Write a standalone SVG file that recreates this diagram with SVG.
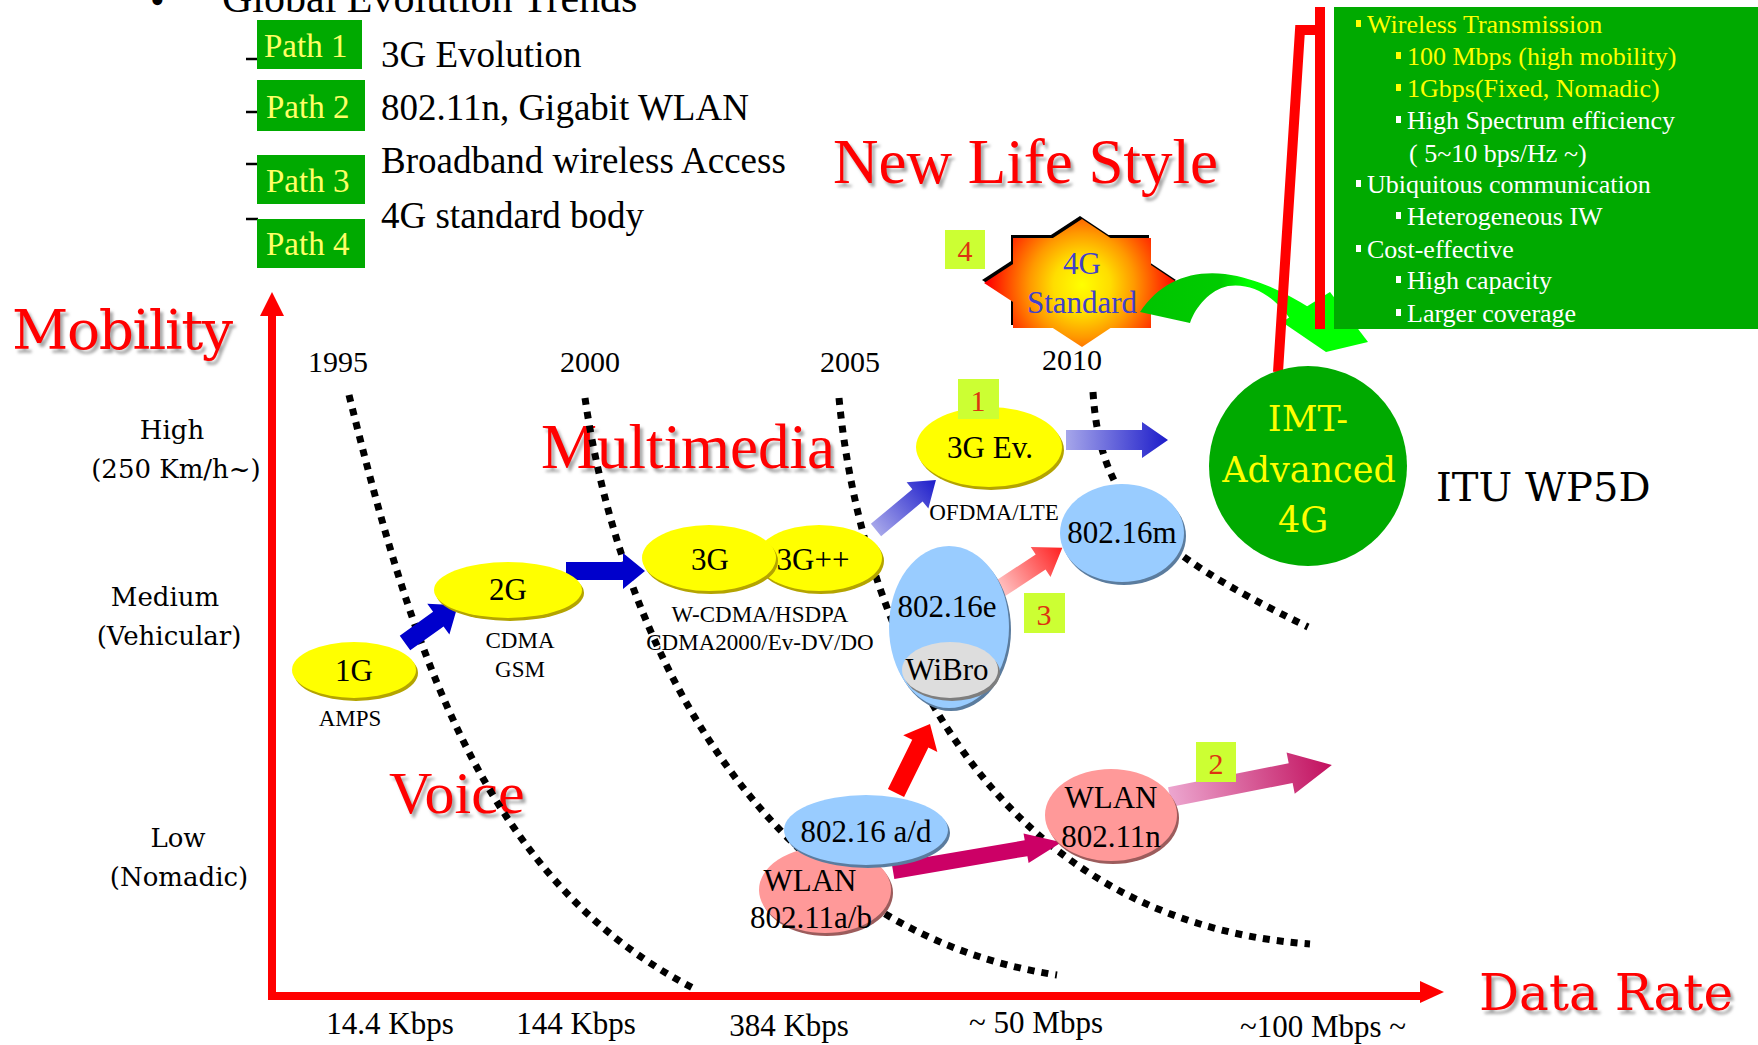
<svg xmlns="http://www.w3.org/2000/svg" width="1758" height="1045" viewBox="0 0 1758 1045">
<defs>
<style>
text{font-family:"Liberation Serif","Times New Roman",serif;}
.bk{font-family:"DejaVu Serif","Liberation Serif",serif;}
.ctr{text-anchor:middle;}
.red{fill:#FF0000;}
.soft{fill:#A8A8A8;filter:url(#soft);}
.pbox{fill:#00AA00;}
.ptxt{fill:#FFFF66;font-size:33px;}
.item{font-size:37px;fill:#000;}
.year{font-size:30px;text-anchor:middle;}
.mob{font-size:26px;text-anchor:middle;font-family:"DejaVu Serif","Liberation Serif",serif;}
.rate{font-size:31px;text-anchor:middle;}
.era{fill:none;stroke:#000;stroke-width:7;stroke-dasharray:7 7;}
.ntxt{font-size:31px;text-anchor:middle;fill:#000;}
.stxt{font-size:23px;text-anchor:middle;fill:#000;}
.yel{fill:#FFFF00;} .yel-s{fill:#B4A400;}
.blu{fill:#99CCFF;} .blu-s{fill:#5B7C9E;}
.pnk{fill:#FF9999;} .pnk-s{fill:#9C5C5C;}
.gry{fill:#DDDDDD;} .gry-s{fill:#7E7E7E;}
.tag{fill:#CCFF33;}
.tagtxt{fill:#DD3311;font-size:30px;text-anchor:middle;}
.info{font-size:26px;}
.iy{fill:#FFFF00;}
.iw{fill:#FFFFFF;}
.axis{fill:none;stroke:#FF0000;stroke-width:8;}
</style>
<filter id="soft" x="-5%" y="-20%" width="110%" height="140%"><feGaussianBlur stdDeviation="1.6"/></filter>
<linearGradient id="gBlue" x1="0" y1="0" x2="1" y2="0"><stop offset="0" stop-color="#A6A6EA"/><stop offset="1" stop-color="#1C1CCA"/></linearGradient>
<linearGradient id="gRed" x1="0" y1="0" x2="1" y2="0"><stop offset="0" stop-color="#FFC8C8"/><stop offset="1" stop-color="#FF2020"/></linearGradient>
<linearGradient id="gMag" x1="0" y1="0" x2="1" y2="0"><stop offset="0" stop-color="#ECA6CF"/><stop offset="1" stop-color="#C2105E"/></linearGradient>
<linearGradient id="gGreen" gradientUnits="userSpaceOnUse" x1="1140" y1="0" x2="1320" y2="0"><stop offset="0" stop-color="#00C400"/><stop offset="0.45" stop-color="#00CC00"/><stop offset="0.6" stop-color="#00FF00"/><stop offset="1" stop-color="#00FF00"/></linearGradient>
<radialGradient id="starGrad" gradientUnits="userSpaceOnUse" cx="1082" cy="285" r="95"><stop offset="0" stop-color="#FFFF00"/><stop offset="0.3" stop-color="#FFDD00"/><stop offset="0.55" stop-color="#FF9900"/><stop offset="0.8" stop-color="#FF4400"/><stop offset="1" stop-color="#FF0000"/></radialGradient>
</defs>

<rect width="1758" height="1045" fill="#FFFFFF"/>

<!-- heading and path legend -->
<g id="legend">
  <text x="150" y="14" font-size="42">•</text>
  <text x="222" y="12" font-size="42">Global Evolution Trends</text>
  <g stroke="#000" stroke-width="2.5">
    <line x1="246" y1="59" x2="258" y2="59"/>
    <line x1="246" y1="112" x2="258" y2="112"/>
    <line x1="246" y1="164" x2="258" y2="164"/>
    <line x1="246" y1="219" x2="258" y2="219"/>
  </g>
  <g id="path1"><rect class="pbox" x="257" y="20" width="105" height="49"/><text class="ptxt" x="264" y="57">Path 1</text></g>
  <g id="path2"><rect class="pbox" x="257" y="80" width="108" height="51"/><text class="ptxt" x="266" y="118">Path 2</text></g>
  <g id="path3"><rect class="pbox" x="257" y="155" width="108" height="49"/><text class="ptxt" x="266" y="192">Path 3</text></g>
  <g id="path4"><rect class="pbox" x="257" y="219" width="108" height="49"/><text class="ptxt" x="266" y="255">Path 4</text></g>
  <text class="item" x="381" y="67">3G Evolution</text>
  <text class="item" x="381" y="120">802.11n, Gigabit WLAN</text>
  <text class="item" x="381" y="173">Broadband wireless Access</text>
  <text class="item" x="381" y="228">4G standard body</text>
</g>

<!-- big red captions -->
<g id="captions">
  <text class="soft" x="836" y="187" font-size="63">New Life Style</text>
  <text class="red" x="833" y="183" font-size="63">New Life Style</text>
  <text class="soft bk" x="15" y="353" font-size="55" textLength="221">Mobility</text>
  <text class="red bk" x="12" y="349" font-size="55" textLength="221">Mobility</text>
  <text class="soft" x="544" y="472" font-size="63">Multimedia</text>
  <text class="red" x="541" y="468" font-size="63">Multimedia</text>
  <text class="soft" x="392" y="817" font-size="60">Voice</text>
  <text class="red" x="389" y="813" font-size="60">Voice</text>
  <text class="soft bk" x="1482" y="1014" font-size="50">Data Rate</text>
  <text class="red bk" x="1479" y="1010" font-size="50">Data Rate</text>
  <text class="bk" x="1436" y="501" font-size="40">ITU WP5D</text>
</g>

<!-- axes -->
<g id="axes">
  <path class="axis" d="M272,312 V996 H1422"/>
  <polygon points="272,292 260,316 284,316" fill="#FF0000"/>
  <polygon points="1444,992 1420,981 1420,1003" fill="#FF0000"/>
  <text class="mob" x="172" y="439">High</text>
  <text class="mob" x="176" y="478">(250 Km/h~)</text>
  <text class="mob" x="165" y="606">Medium</text>
  <text class="mob" x="169" y="645">(Vehicular)</text>
  <text class="mob" x="178" y="847">Low</text>
  <text class="mob" x="179" y="886">(Nomadic)</text>
  <text class="rate" x="390" y="1034">14.4 Kbps</text>
  <text class="rate" x="576" y="1034">144 Kbps</text>
  <text class="rate" x="789" y="1036">384 Kbps</text>
  <text class="rate" x="1036" y="1033">~ 50 Mbps</text>
  <text class="rate" x="1323" y="1037">~100 Mbps ~</text>
  <text class="year" x="338" y="372">1995</text>
  <text class="year" x="590" y="372">2000</text>
  <text class="year" x="850" y="372">2005</text>
  <text class="year" x="1072" y="370">2010</text>
</g>

<!-- era boundaries -->
<g id="era-boundaries">
  <path class="era" d="M349,395 C410,640 480,880 695,989"/>
  <path class="era" d="M585,398 C620,640 760,930 1057,975"/>
  <path class="era" d="M839,398 C860,620 980,920 1310,944"/>
  <path class="era" d="M1093,392 C1100,500 1145,548 1308,627"/>
</g>

<!-- 4G standard burst -->
<g id="node-4g-standard">
  <g transform="translate(-2,-3)" fill="#000">
    <rect x="1013" y="238" width="138" height="90"/>
    <polygon points="1082,219 1178,283 1082,347 984,283"/>
  </g>
  <g fill="url(#starGrad)">
    <rect x="1013" y="238" width="138" height="90"/>
    <polygon points="1082,219 1178,283 1082,347 984,283"/>
  </g>
  <text x="1082" y="274" font-size="31" fill="#4040CC" class="ctr">4G</text>
  <text x="1082" y="313" font-size="31" fill="#4040CC" class="ctr">Standard</text>
</g>
<g id="tag4"><rect class="tag" x="945" y="230" width="40" height="39"/><text class="tagtxt" x="965" y="261">4</text></g>

<!-- curved arrow from the standard to the requirements -->
<g id="arrow-4g">
  <path d="M1140,312 C1160,282 1190,270 1225,274 C1255,278 1285,292 1310,308 L1296,328 C1280,300 1255,282 1228,286 C1210,290 1196,306 1190,323 Z" fill="url(#gGreen)"/>
  <polygon points="1282,322 1330,292 1368,342 1326,352" fill="#00FF00"/>
</g>

<!-- requirements panel -->
<g id="requirements">
  <rect x="1334" y="7" width="424" height="322" fill="#00AA00"/>
  <g class="iy">
    <rect x="1356" y="20" width="5" height="7"/>
    <rect x="1396" y="52" width="5" height="7"/>
    <rect x="1396" y="84" width="5" height="7"/>
  </g>
  <g class="iw">
    <rect x="1396" y="116" width="5" height="7"/>
    <rect x="1356" y="180" width="5" height="7"/>
    <rect x="1396" y="212" width="5" height="7"/>
    <rect x="1356" y="245" width="5" height="7"/>
    <rect x="1396" y="276" width="5" height="7"/>
    <rect x="1396" y="309" width="5" height="7"/>
  </g>
  <text class="info iy" x="1367" y="33">Wireless Transmission</text>
  <text class="info iy" x="1407" y="65">100 Mbps (high mobility)</text>
  <text class="info iy" x="1407" y="97">1Gbps(Fixed, Nomadic)</text>
  <text class="info iw" x="1407" y="129">High Spectrum efficiency</text>
  <text class="info iw" x="1409" y="162">( 5~10 bps/Hz ~)</text>
  <text class="info iw" x="1367" y="193">Ubiquitous communication</text>
  <text class="info iw" x="1407" y="225">Heterogeneous IW</text>
  <text class="info iw" x="1367" y="258">Cost-effective</text>
  <text class="info iw" x="1407" y="289">High capacity</text>
  <text class="info iw" x="1407" y="322">Larger coverage</text>
</g>

<!-- bracket tying IMT-Advanced to the panel -->
<g id="bracket" fill="none" stroke="#FF0000" stroke-width="10">
  <polyline points="1278,372 1300,30 1320,30"/>
  <line x1="1320" y1="7" x2="1320" y2="329"/>
</g>

<!-- connectors -->
<g id="connectors">
  <polygon transform="translate(405,643) rotate(-35.6)" points="0,-9 41,-9 41,-19 65,0 41,19 41,9 0,9" fill="#0000CC"/>
  <polygon transform="translate(566,571)" points="0,-9 57,-9 57,-18 79,0 57,18 57,9 0,9" fill="#0000CC"/>
  <polygon transform="translate(876,530) rotate(-39.8)" points="0,-8 54,-8 54,-17 78,0 54,17 54,8 0,8" fill="url(#gBlue)"/>
  <polygon transform="translate(1066,440)" points="0,-10 76,-10 76,-18 102,0 76,18 76,10 0,10" fill="url(#gBlue)"/>
  <polygon transform="translate(998,590) rotate(-33.3)" points="0,-9 51,-9 51,-18 77,0 51,18 51,9 0,9" fill="url(#gRed)"/>
  <polygon transform="translate(896,793) rotate(-63.8)" points="0,-9 55,-9 55,-19 77,0 55,19 55,9 0,9" fill="#FF0000"/>
  <polygon transform="translate(893,871) rotate(-9.7)" points="0,-8 135,-8 135,-15 171,0 135,15 135,8 0,8" fill="#CC0066"/>
  <polygon transform="translate(1170,797) rotate(-11.2)" points="0,-10 123,-10 123,-21 165,0 123,21 123,10 0,10" fill="url(#gMag)"/>
</g>

<!-- technology nodes -->
<g id="node-1g">
  <ellipse class="yel-s" cx="356" cy="673" rx="62" ry="28"/>
  <ellipse class="yel" cx="354" cy="670" rx="62" ry="28"/>
  <text class="ntxt" x="354" y="681">1G</text>
  <text class="stxt" x="350" y="726">AMPS</text>
</g>
<g id="node-2g">
  <ellipse class="yel-s" cx="510" cy="593" rx="74" ry="28"/>
  <ellipse class="yel" cx="508" cy="590" rx="74" ry="28"/>
  <text class="ntxt" x="508" y="600">2G</text>
  <text class="stxt" x="520" y="648">CDMA</text>
  <text class="stxt" x="520" y="677">GSM</text>
</g>
<g id="node-3g-plus">
  <ellipse class="yel-s" cx="821" cy="561" rx="63" ry="33"/>
  <ellipse class="yel" cx="819" cy="558" rx="63" ry="33"/>
</g>
<g id="node-3g">
  <ellipse class="yel-s" cx="711" cy="561" rx="67" ry="33"/>
  <ellipse class="yel" cx="709" cy="558" rx="67" ry="33"/>
  <text class="ntxt" x="710" y="570">3G</text>
  <text class="ntxt" x="813" y="570">3G++</text>
  <text class="stxt" x="760" y="622">W-CDMA/HSDPA</text>
  <text class="stxt" x="760" y="650">CDMA2000/Ev-DV/DO</text>
</g>
<g id="node-3g-ev">
  <ellipse class="yel-s" cx="991" cy="450" rx="73" ry="40"/>
  <ellipse class="yel" cx="989" cy="447" rx="73" ry="40"/>
  <text class="ntxt" x="990" y="458">3G Ev.</text>
  <text class="stxt" x="994" y="520">OFDMA/LTE</text>
</g>
<g id="tag1"><rect class="tag" x="958" y="379" width="41" height="40"/><text class="tagtxt" x="978" y="411">1</text></g>
<g id="node-80216e">
  <ellipse class="blu-s" cx="951" cy="630" rx="60" ry="81"/>
  <ellipse class="blu" cx="949" cy="627" rx="60" ry="81"/>
  <text class="ntxt" x="947" y="617">802.16e</text>
  <ellipse class="gry-s" cx="952" cy="673" rx="48" ry="28"/>
  <ellipse class="gry" cx="950" cy="670" rx="48" ry="28"/>
  <text class="ntxt" x="947" y="680" font-size="30">WiBro</text>
</g>
<g id="node-80216m">
  <ellipse class="blu-s" cx="1124" cy="536" rx="62" ry="49"/>
  <ellipse class="blu" cx="1122" cy="533" rx="62" ry="49"/>
  <text class="ntxt" x="1122" y="543">802.16m</text>
</g>
<g id="tag3"><rect class="tag" x="1024" y="593" width="41" height="40"/><text class="tagtxt" x="1044" y="625">3</text></g>
<g id="node-wlan-ab">
  <ellipse class="pnk-s" cx="827" cy="893" rx="66" ry="43"/>
  <ellipse class="pnk" cx="825" cy="890" rx="66" ry="43"/>
  <text class="ntxt" x="810" y="891">WLAN</text>
  <text class="ntxt" x="811" y="928">802.11a/b</text>
</g>
<g id="node-80216ad">
  <ellipse class="blu-s" cx="868" cy="833" rx="82" ry="35"/>
  <ellipse class="blu" cx="866" cy="830" rx="82" ry="35"/>
  <text class="ntxt" x="866" y="842" font-size="30">802.16 a/d</text>
</g>
<g id="node-wlan-n">
  <ellipse class="pnk-s" cx="1113" cy="818" rx="66" ry="46"/>
  <ellipse class="pnk" cx="1111" cy="815" rx="66" ry="46"/>
  <text class="ntxt" x="1111" y="808">WLAN</text>
  <text class="ntxt" x="1111" y="847">802.11n</text>
</g>
<g id="tag2"><rect class="tag" x="1196" y="742" width="40" height="40"/><text class="tagtxt" x="1216" y="774">2</text></g>
<g id="node-imt-advanced">
  <ellipse cx="1308" cy="466" rx="99" ry="100" fill="#00AA00"/>
  <text class="bk ctr" x="1308" y="431" font-size="35" fill="#FFFF00">IMT-</text>
  <text class="bk ctr" x="1309" y="482" font-size="35" fill="#FFFF00">Advanced</text>
  <text class="bk ctr" x="1303" y="532" font-size="35" fill="#FFFF00">4G</text>
</g>
</svg>
